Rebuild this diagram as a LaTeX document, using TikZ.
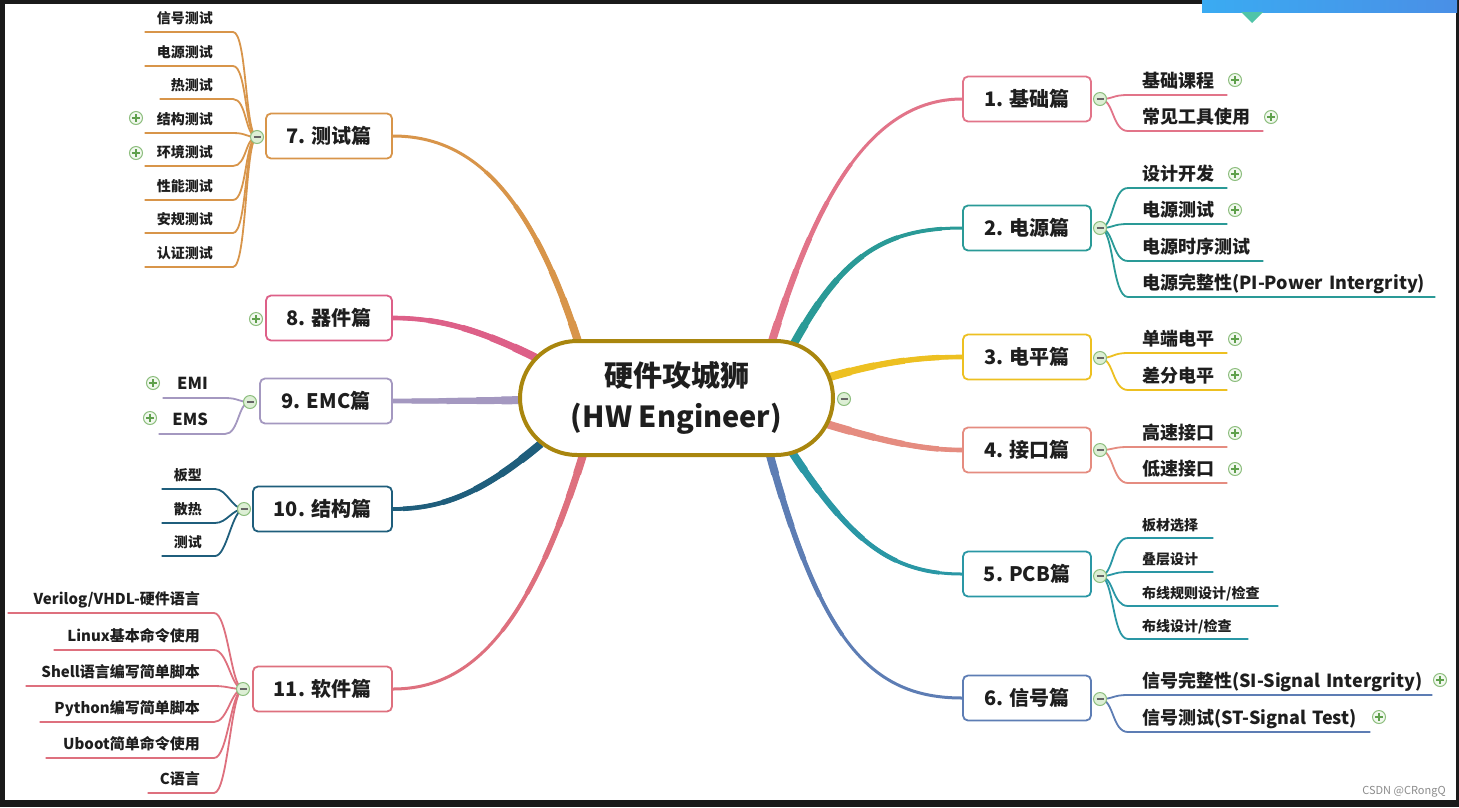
\documentclass[tikz,border=0pt]{standalone}
\usepackage{fontspec}
\setmainfont{Noto Sans CJK SC}
\usetikzlibrary{calc}
\pgfdeclarelayer{back}
\pgfdeclarelayer{lines}
\pgfsetlayers{back,lines,main}
\definecolor{textc}{HTML}{1E1E1E}
\definecolor{cgold}{HTML}{A9860E}
\definecolor{cpink}{HTML}{E27489}
\definecolor{cteal}{HTML}{2A9A97}
\definecolor{cyel}{HTML}{EDC021}
\definecolor{csalm}{HTML}{E58C80}
\definecolor{cteal5}{HTML}{2A97A5}
\definecolor{cblue}{HTML}{5D7DB4}
\definecolor{corange}{HTML}{D8954A}
\definecolor{cpink8}{HTML}{DD6088}
\definecolor{cpurp}{HTML}{A498C0}
\definecolor{cdteal}{HTML}{1F5E7C}
\definecolor{cred}{HTML}{DE707E}
\definecolor{icond}{HTML}{8DBE7E}
\definecolor{iconf}{HTML}{DDEFD5}
\definecolor{iconp}{HTML}{F1F8EE}
\definecolor{icong}{HTML}{5FA04C}
\definecolor{frame}{HTML}{1A1A1A}
\definecolor{bannerl}{HTML}{3AABF2}
\definecolor{bannerr}{HTML}{4A8FE6}
\definecolor{tri}{HTML}{50C4A8}
\definecolor{wmark}{HTML}{8C8C8C}
\newcommand\mbranch[2]{%
 \draw[#1, line width=3pt] #2;
 \draw[#1, line width=3.8pt, dash pattern=on 200pt off 3000pt] #2;
 \draw[#1, line width=4.6pt, dash pattern=on 155pt off 3000pt] #2;
 \draw[#1, line width=5.4pt, dash pattern=on 115pt off 3000pt] #2;
 \draw[#1, line width=6.2pt, dash pattern=on 80pt off 3000pt] #2;
 \draw[#1, line width=7pt, dash pattern=on 50pt off 3000pt] #2;
 \draw[#1, line width=8pt, dash pattern=on 25pt off 3000pt] #2;
}
\tikzset{
 box/.style={draw=#1, line width=1.8pt, rounded corners=5pt, fill=white, minimum height=45pt, inner sep=0pt, font=\fontsize{20}{22}\selectfont\bfseries, text=textc},
 kid/.style={inner sep=0pt, text depth=7.5pt, align=left, anchor=south west, font=\fontsize{18}{20}\selectfont\bfseries, text=textc},
 kidl/.style={inner sep=0pt, text depth=8.5pt, align=right, anchor=south east, font=\fontsize{14}{16}\selectfont\bfseries, text=textc},
 smallk/.style={font=\fontsize{14}{16}\selectfont\bfseries},
 midk/.style={font=\fontsize{15}{17}\selectfont\bfseries},
 emk/.style={font=\fontsize{16.5}{18}\selectfont\bfseries},
 cl/.style={line width=1.8pt, #1},
 minus/.style={circle, draw=icond, fill=iconf, line width=1pt, minimum size=13pt, inner sep=0pt,
   path picture={\draw[black!60, line width=1.2pt] ([xshift=-3.5pt]path picture bounding box.center) -- ([xshift=3.5pt]path picture bounding box.center);}},
 plusi/.style={circle, draw=icond, fill=iconp, line width=1pt, minimum size=13pt, inner sep=0pt,
   path picture={\draw[icong, line width=1.2pt] ([xshift=-3.8pt]path picture bounding box.center) -- ([xshift=3.8pt]path picture bounding box.center) ([yshift=-3.8pt]path picture bounding box.center) -- ([yshift=3.8pt]path picture bounding box.center);}},
}
\begin{document}
\begin{tikzpicture}[x=1pt,y=-1pt]
\useasboundingbox (0,0) rectangle (1459,807);
\begin{pgfonlayer}{back}
\fill[frame] (0,0) rectangle (1459,807);
\fill[white] (5,4) rectangle (1456,800);
\shade[left color=bannerl, right color=bannerr] (1202,0) rectangle (1457,12);
\fill[tri] (1241,12) -- (1263,12) -- (1252,23) -- cycle;
\end{pgfonlayer}

% center
\node[draw=cgold, line width=4pt, fill=white, rounded corners=57pt, minimum width=313pt, minimum height=114pt, align=center, text=textc, font=\fontsize{29}{40}\selectfont\bfseries] (c) at (676.5,398) {\raisebox{-3pt}{硬件攻城狮}\\[0pt]\raisebox{-4pt}{(HW Engineer)}};
\node[minus] (mc) at (844,399) {};

% main nodes right
\node[box=cpink, minimum width=128pt] (n1) at (1027,99) {1. 基础篇};
\node[box=cteal, minimum width=128pt] (n2) at (1027,228) {2. 电源篇};
\node[box=cyel, minimum width=128pt] (n3) at (1027,357) {3. 电平篇};
\node[box=csalm, minimum width=128pt] (n4) at (1027,450) {4. 接口篇};
\node[box=cteal5, minimum width=128pt] (n5) at (1027,574) {5. PCB篇};
\node[box=cblue, minimum width=128pt] (n6) at (1027,698) {6. 信号篇};
% main nodes left
\node[box=corange, minimum width=126pt] (n7) at (329,136) {7. 测试篇};
\node[box=cpink8, minimum width=126pt] (n8) at (329,318) {8. 器件篇};
\node[box=cpurp, minimum width=132pt] (n9) at (326,401) {9. EMC篇};
\node[box=cdteal, minimum width=139pt] (n10) at (322.5,509) {10. 结构篇};
\node[box=cred, minimum width=139pt] (n11) at (322.5,689) {11. 软件篇};

% collapse icons
\node[minus] (m1) at (1100,99) {};
\node[minus] (m2) at (1100,228) {};
\node[minus] (m3) at (1100,358) {};
\node[minus] (m4) at (1100,450) {};
\node[minus] (m5) at (1100,576) {};
\node[minus] (m6) at (1100,699) {};
\node[minus] (m7) at (257,137) {};
\node[minus] (m9) at (250,402) {};
\node[minus] (m10) at (244,509) {};
\node[minus] (m11) at (243,689) {};

% right children
\node[kid, text width=85pt] (k1a) at (1142,95) {\mbox{基础课程}};
\node[kid, text width=121pt] (k1b) at (1142,131) {\mbox{常见工具使用}};
\node[kid, text width=85pt] (k2a) at (1142,188) {\mbox{设计开发}};
\node[kid, text width=85pt] (k2b) at (1142,224) {\mbox{电源测试}};
\node[kid, text width=121pt] (k2c) at (1142,261) {\mbox{电源时序测试}};
\node[kid, text width=293pt] (k2d) at (1142,297) {\mbox{电源完整性(PI-Power Intergrity)}};
\node[kid, text width=85pt] (k3a) at (1142,353) {\mbox{单端电平}};
\node[kid, text width=85pt] (k3b) at (1142,390) {\mbox{差分电平}};
\node[kid, text width=85pt] (k4a) at (1142,447) {\mbox{高速接口}};
\node[kid, text width=85pt] (k4b) at (1142,483) {\mbox{低速接口}};
\node[kid, smallk, text depth=7.5pt, text width=71pt] (k5a) at (1142,538) {\mbox{板材选择}};
\node[kid, smallk, text depth=7.5pt, text width=71pt] (k5b) at (1142,572) {\mbox{叠层设计}};
\node[kid, smallk, text depth=7.5pt, text width=136pt] (k5c) at (1142,606) {\mbox{布线规则设计/检查}};
\node[kid, smallk, text depth=7.5pt, text width=106pt] (k5d) at (1142,639) {\mbox{布线设计/检查}};
\node[kid, text width=290pt] (k6a) at (1142,695) {\mbox{信号完整性(SI-Signal Intergrity)}};
\node[kid, text width=228pt] (k6b) at (1142,732) {\mbox{信号测试(ST-Signal Test)}};

% left children 7
\node[kidl, text width=68pt] (k7a) at (213,32) {\mbox{信号测试}};
\node[kidl, text width=68pt] (k7b) at (213,66) {\mbox{电源测试}};
\node[kidl, text width=53pt] (k7c) at (213,99) {\mbox{热测试}};
\node[kidl, text width=68pt] (k7d) at (213,133) {\mbox{结构测试}};
\node[kidl, text width=68pt] (k7e) at (213,166) {\mbox{环境测试}};
\node[kidl, text width=68pt] (k7f) at (213,200) {\mbox{性能测试}};
\node[kidl, text width=68pt] (k7g) at (213,233) {\mbox{安规测试}};
\node[kidl, text width=68pt] (k7h) at (213,267) {\mbox{认证测试}};
% 9
\node[kidl, emk, text width=45pt] (k9a) at (208,398) {\mbox{EMI}};
\node[kidl, emk, text width=49pt] (k9b) at (208,434) {\mbox{EMS}};
% 10
\node[kidl, text width=40pt] (k10a) at (202,489) {\mbox{板型}};
\node[kidl, text width=40pt] (k10b) at (202,523) {\mbox{散热}};
\node[kidl, text width=40pt] (k10c) at (202,556) {\mbox{测试}};
% 11
\node[kidl, midk, text width=192pt] (k11a) at (200,613) {\mbox{Verilog/VHDL-硬件语言}};
\node[kidl, midk, text width=146pt] (k11b) at (200,650) {\mbox{Linux基本命令使用}};
\node[kidl, midk, text width=174pt] (k11c) at (200,686) {\mbox{Shell语言编写简单脚本}};
\node[kidl, midk, text width=160pt] (k11d) at (200,722) {\mbox{Python编写简单脚本}};
\node[kidl, midk, text width=154pt] (k11e) at (200,758) {\mbox{Uboot简单命令使用}};
\node[kidl, midk, text width=52pt] (k11f) at (200,793) {\mbox{C语言}};

% plus icons
\node[plusi] (p1a) at (1235,80) {};
\node[plusi] (p1b) at (1271,117) {};
\node[plusi] (p2a) at (1235,174) {};
\node[plusi] (p2b) at (1235,210) {};
\node[plusi] (p3a) at (1235,339) {};
\node[plusi] (p3b) at (1235,375) {};
\node[plusi] (p4a) at (1235,433) {};
\node[plusi] (p4b) at (1235,469) {};
\node[plusi] (p6a) at (1440,680) {};
\node[plusi] (p6b) at (1379,717) {};
\node[plusi] (p8) at (256,319) {};
\node[plusi] (p7d) at (136,118) {};
\node[plusi] (p7e) at (136,153) {};
\node[plusi] (p9a) at (153,383) {};
\node[plusi] (p9b) at (150,418) {};

\node[text=wmark, font=\fontsize{11}{12}\selectfont, inner sep=0pt] (wm) at (1404,792) {CSDN @CRongQ};

\begin{pgfonlayer}{lines}
% main branches
\mbranch{cpink}{($(c.center)+(94,-52)$) .. controls (815,200) and (870,99) .. (n1.west)}
\mbranch{cteal}{($(c.center)+(116,-52)$) .. controls (840,260) and (880,228) .. (n2.west)}
\mbranch{cyel}{($(c.center)+(150,-20)$) .. controls (880,362) and (920,357) .. (n3.west)}
\mbranch{csalm}{($(c.center)+(150,26)$) .. controls (880,440) and (920,450) .. (n4.west)}
\mbranch{cteal5}{($(c.center)+(114,52)$) .. controls (850,540) and (890,574) .. (n5.west)}
\mbranch{cblue}{($(c.center)+(92,52)$) .. controls (820,640) and (870,698) .. (n6.west)}
\mbranch{corange}{($(c.center)+(-97,-52)$) .. controls (530,190) and (470,136) .. (n7.east)}
\mbranch{cpink8}{($(c.center)+(-140,-40)$) .. controls (480,330) and (440,318) .. (n8.east)}
\mbranch{cpurp}{($(c.center)+(-150,2)$) .. controls (470,401) and (430,401) .. (n9.east)}
\mbranch{cdteal}{($(c.center)+(-136,46)$) .. controls (480,495) and (440,509) .. (n10.east)}
\mbranch{cred}{($(c.center)+(-92,52)$) .. controls (530,630) and (470,689) .. (n11.east)}
% right child lines
\foreach \m/\k/\c in {m1/k1a/cpink, m1/k1b/cpink, m2/k2a/cteal, m2/k2b/cteal, m2/k2c/cteal, m2/k2d/cteal, m3/k3a/cyel, m3/k3b/cyel, m4/k4a/csalm, m4/k4b/csalm, m5/k5a/cteal5, m5/k5b/cteal5, m5/k5c/cteal5, m5/k5d/cteal5, m6/k6a/cblue, m6/k6b/cblue}
  \draw[cl=\c] (\m.center) .. controls +(14,0) and +(-16,0) .. ([xshift=-14pt]\k.south west) -- (\k.south east);
% left child lines
\foreach \k in {k7a,k7b,k7c,k7d,k7e,k7f,k7g,k7h}
  \draw[cl=corange] (m7.center) .. controls +(-12,0) and +(14,0) .. ([xshift=20pt]\k.south east) -- (\k.south west);
\foreach \k in {k9a,k9b}
  \draw[cl=cpurp] (m9.center) .. controls +(-12,0) and +(14,0) .. ([xshift=17pt]\k.south east) -- (\k.south west);
\foreach \k in {k10a,k10b,k10c}
  \draw[cl=cdteal] (m10.center) .. controls +(-12,0) and +(12,0) .. ([xshift=13pt]\k.south east) -- (\k.south west);
\foreach \k in {k11a,k11b,k11c,k11d,k11e,k11f}
  \draw[cl=cred] (m11.center) .. controls +(-12,0) and +(14,0) .. ([xshift=14pt]\k.south east) -- (\k.south west);
\end{pgfonlayer}
\end{tikzpicture}
\end{document}
